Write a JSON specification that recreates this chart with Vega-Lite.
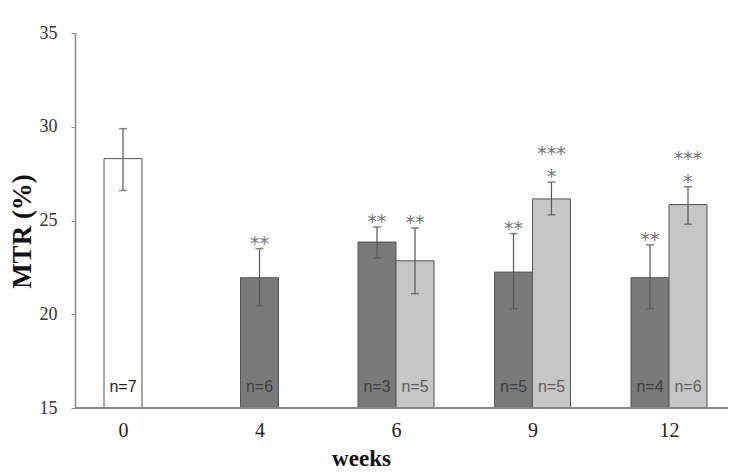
{
  "$schema": "https://vega.github.io/schema/vega-lite/v6.json",
  "autosize": "none",
  "width": 653,
  "height": 375,
  "padding": {"left": 75, "top": 33, "right": 22, "bottom": 67},
  "background": "white",
  "config": {"view": {"stroke": null}},
  "data": {
    "values": [
      {"week": "0", "group": "baseline", "mean": 28.3, "lo": 26.6, "hi": 29.9, "n": "n=7", "sig": "", "sig2": "", "off": 0},
      {"week": "4", "group": "dark", "mean": 21.95, "lo": 20.45, "hi": 23.5, "n": "n=6", "sig": "**", "sig2": "", "off": 0},
      {"week": "6", "group": "dark", "mean": 23.85, "lo": 23.0, "hi": 24.65, "n": "n=3", "sig": "**", "sig2": "", "off": -0.5},
      {"week": "6", "group": "light", "mean": 22.85, "lo": 21.1, "hi": 24.6, "n": "n=5", "sig": "**", "sig2": "", "off": 0.5},
      {"week": "9", "group": "dark", "mean": 22.25, "lo": 20.3, "hi": 24.3, "n": "n=5", "sig": "**", "sig2": "", "off": -0.5},
      {"week": "9", "group": "light", "mean": 26.15, "lo": 25.3, "hi": 27.05, "n": "n=5", "sig": "*", "sig2": "***", "off": 0.5},
      {"week": "12", "group": "dark", "mean": 21.95, "lo": 20.3, "hi": 23.7, "n": "n=4", "sig": "**", "sig2": "", "off": -0.5},
      {"week": "12", "group": "light", "mean": 25.85, "lo": 24.8, "hi": 26.8, "n": "n=6", "sig": "*", "sig2": "***", "off": 0.5}
    ]
  },
  "encoding": {
    "x": {
      "field": "week", "type": "ordinal", "sort": ["0", "4", "6", "9", "12"],
      "scale": {"type": "point", "padding": 0, "range": [48, 594]},
      "axis": {
        "title": "weeks", "labelAngle": 0, "ticks": false, "domain": false,
        "labelFont": "Liberation Serif", "labelFontSize": 20, "labelColor": "#222222", "labelPadding": 12,
        "titleFont": "Liberation Serif", "titleFontSize": 23, "titleFontWeight": "bold", "titleColor": "#111111",
        "titlePadding": 7, "titleX": 286
      }
    },
    "xOffset": {"field": "off", "type": "quantitative", "scale": {"domain": [-1, 1], "range": [-38, 38]}}
  },
  "layer": [
    {
      "mark": {"type": "bar", "width": 38, "stroke": "#555555", "strokeWidth": 1},
      "encoding": {
        "y": {
          "field": "mean", "type": "quantitative", "scale": {"domain": [15, 35], "zero": false, "nice": false},
          "axis": {
            "title": "MTR (%)", "values": [15, 20, 25, 30, 35], "grid": false, "tickSize": 4, "tickColor": "#888888",
            "domainColor": "#888888", "domainWidth": 1.5,
            "labelFont": "Liberation Serif", "labelFontSize": 18, "labelColor": "#333333", "labelPadding": 14,
            "titleFont": "Liberation Serif", "titleFontSize": 27, "titleFontWeight": "bold", "titleColor": "#111111",
            "titlePadding": 3, "titleY": 198
          }
        },
        "y2": {"datum": 15},
        "fill": {
          "field": "group", "type": "nominal", "legend": null,
          "scale": {"domain": ["baseline", "dark", "light"], "range": ["#ffffff", "#7a7a7a", "#c6c6c6"]}
        }
      }
    },
    {
      "mark": {"type": "rule", "color": "#888888", "strokeWidth": 1.5},
      "encoding": {"y": {"datum": 15}, "x": null, "xOffset": null}
    },
    {
      "mark": {"type": "rule", "color": "#555555", "strokeWidth": 1.2},
      "encoding": {"y": {"field": "lo", "type": "quantitative"}, "y2": {"field": "hi"}}
    },
    {
      "mark": {"type": "tick", "color": "#555555", "thickness": 1.5, "size": 8},
      "encoding": {"y": {"field": "lo", "type": "quantitative"}}
    },
    {
      "mark": {"type": "tick", "color": "#555555", "thickness": 1.5, "size": 8},
      "encoding": {"y": {"field": "hi", "type": "quantitative"}}
    },
    {
      "mark": {"type": "text", "baseline": "alphabetic", "dy": 1, "font": "DejaVu Sans", "fontSize": 19, "color": "#757575"},
      "encoding": {"y": {"field": "hi", "type": "quantitative"}, "text": {"field": "sig"}}
    },
    {
      "mark": {"type": "text", "baseline": "alphabetic", "dy": -22, "font": "DejaVu Sans", "fontSize": 19, "color": "#757575"},
      "encoding": {"y": {"field": "hi", "type": "quantitative"}, "text": {"field": "sig2"}}
    },
    {
      "mark": {"type": "text", "baseline": "middle", "font": "Liberation Sans", "fontSize": 16},
      "encoding": {
        "y": {"datum": 16.1},
        "text": {"field": "n"},
        "color": {
          "field": "group", "type": "nominal", "legend": null,
          "scale": {"domain": ["baseline", "dark", "light"], "range": ["#222222", "#3e3e3e", "#606060"]}
        }
      }
    }
  ]
}
